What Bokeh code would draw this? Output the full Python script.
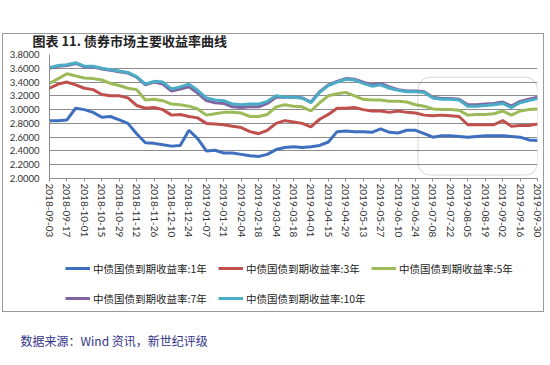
import math
import pandas as pd
from bokeh.plotting import figure
from bokeh.layouts import column
from bokeh.models import (Range1d, FixedTicker, NumeralTickFormatter, DatetimeTickFormatter,
                          Legend, LegendItem, Title, BoxAnnotation, ColumnDataSource)
from bokeh.embed import file_html
from bokeh.resources import INLINE

# ---------------- data (weekly readings) ----------------
dates = pd.date_range("2018-09-03", "2019-09-30", freq="7D")

y1 = [2.84, 2.84, 2.85, 3.02, 3.00, 2.96, 2.89, 2.90, 2.85, 2.80,
      2.65, 2.52, 2.51, 2.49, 2.47, 2.48, 2.70, 2.58, 2.40, 2.41,
      2.37, 2.37, 2.35, 2.33, 2.32, 2.35, 2.42, 2.45, 2.46, 2.45,
      2.46, 2.48, 2.53, 2.68, 2.69, 2.68, 2.68, 2.67, 2.72, 2.67,
      2.66, 2.70, 2.70, 2.65, 2.60, 2.62, 2.62, 2.61, 2.60, 2.61,
      2.62, 2.62, 2.62, 2.61, 2.60, 2.56, 2.55]
y3 = [3.31, 3.37, 3.40, 3.36, 3.31, 3.29, 3.22, 3.20, 3.20, 3.17,
      3.06, 3.02, 3.03, 3.00, 2.92, 2.93, 2.90, 2.88, 2.80, 2.79,
      2.78, 2.76, 2.74, 2.68, 2.65, 2.70, 2.80, 2.84, 2.82, 2.80,
      2.75, 2.86, 2.93, 3.02, 3.02, 3.03, 3.00, 2.98, 2.98, 2.96,
      2.98, 2.96, 2.95, 2.92, 2.91, 2.92, 2.91, 2.90, 2.78, 2.78,
      2.78, 2.78, 2.84, 2.76, 2.77, 2.77, 2.79]
y5 = [3.38, 3.45, 3.52, 3.49, 3.46, 3.45, 3.43, 3.38, 3.35, 3.31,
      3.29, 3.14, 3.15, 3.13, 3.08, 3.07, 3.05, 3.01, 2.92, 2.94,
      2.96, 2.96, 2.95, 2.90, 2.90, 2.93, 3.04, 3.07, 3.05, 3.04,
      2.98, 3.10, 3.20, 3.23, 3.25, 3.20, 3.15, 3.14, 3.14, 3.12,
      3.12, 3.11, 3.07, 3.05, 3.01, 3.00, 3.00, 2.99, 2.92, 2.93,
      2.93, 2.94, 2.98, 2.92, 2.98, 3.00, 3.01]
y7 = [3.60, 3.63, 3.64, 3.67, 3.62, 3.62, 3.59, 3.57, 3.55, 3.53,
      3.47, 3.36, 3.40, 3.37, 3.27, 3.30, 3.33, 3.24, 3.13, 3.10,
      3.09, 3.04, 3.03, 3.04, 3.04, 3.09, 3.18, 3.18, 3.18, 3.17,
      3.11, 3.26, 3.36, 3.41, 3.45, 3.44, 3.40, 3.36, 3.38, 3.33,
      3.29, 3.27, 3.27, 3.26, 3.18, 3.16, 3.16, 3.15, 3.07, 3.07,
      3.08, 3.09, 3.11, 3.05, 3.12, 3.15, 3.18]
y10 = [3.61, 3.64, 3.65, 3.68, 3.63, 3.63, 3.60, 3.58, 3.56, 3.54,
       3.48, 3.37, 3.41, 3.40, 3.30, 3.33, 3.37, 3.28, 3.17, 3.14,
       3.13, 3.08, 3.07, 3.08, 3.08, 3.12, 3.20, 3.18, 3.18, 3.17,
       3.10, 3.25, 3.35, 3.40, 3.44, 3.43, 3.38, 3.34, 3.36, 3.31,
       3.28, 3.26, 3.26, 3.25, 3.17, 3.15, 3.15, 3.14, 3.05, 3.05,
       3.06, 3.07, 3.09, 3.03, 3.10, 3.13, 3.16]

series_keys = ["y1", "y3", "y5", "y7", "y10"]
series_names = ["中债国债到期收益率:1年", "中债国债到期收益率:3年", "中债国债到期收益率:5年",
                "中债国债到期收益率:7年", "中债国债到期收益率:10年"]
series_colors = ["#3F6FBF", "#C0504D", "#9BBB59", "#8064A2", "#4BACC6"]

tick_labels = ["2018-09-03", "2018-09-17", "2018-10-01", "2018-10-15", "2018-10-29",
               "2018-11-12", "2018-11-26", "2018-12-10", "2018-12-24", "2019-01-07",
               "2019-01-21", "2019-02-04", "2019-02-18", "2019-03-04", "2019-03-18",
               "2019-04-01", "2019-04-15", "2019-04-29", "2019-05-13", "2019-05-27",
               "2019-06-10", "2019-06-24", "2019-07-08", "2019-07-22", "2019-08-05",
               "2019-08-19", "2019-09-02", "2019-09-16", "2019-09-30"]
y_ticks = [2.0, 2.2, 2.4, 2.6, 2.8, 3.0, 3.2, 3.4, 3.6, 3.8]

title_text = "图表 11.  债券市场主要收益率曲线"
source_text = "数据来源：Wind 资讯，新世纪评级"

W = 550
H_MAIN = 240
H_LEG = 125
BORDER = "#9a9a9a"


def ms(s):
    return pd.Timestamp(s).value // 10**6


src = ColumnDataSource(dict(d=dates, y1=y1, y3=y3, y5=y5, y7=y7, y10=y10))

# outer chart border, drawn in two parts (one per stacked figure)
border_top_css = f"""
:host {{ position: relative; }}
:host::after {{
  content: ""; position: absolute; pointer-events: none; z-index: 10;
  left: 2px; top: 33px; width: 542px; height: 210px;
  border: 1px solid {BORDER}; border-bottom: none;
}}
"""
border_bottom_css = f"""
:host {{ position: relative; }}
:host::after {{
  content: ""; position: absolute; pointer-events: none; z-index: 10;
  left: 2px; top: 0px; width: 542px; height: 72px;
  border: 1px solid {BORDER}; border-top: none;
}}
"""

# ---------------- main chart ----------------
p = figure(width=W, height=H_MAIN, x_axis_type="datetime",
           output_backend="svg", toolbar_location=None,
           x_range=Range1d(ms(tick_labels[0]), ms(tick_labels[-1])),
           y_range=Range1d(y_ticks[0], y_ticks[-1]),
           min_border_left=49, min_border_right=13, min_border_top=46, min_border_bottom=61,
           stylesheets=[border_top_css])
p.outline_line_color = None
p.background_fill_color = "white"
p.border_fill_color = "white"

p.title.text = title_text
p.title.align = "left"
p.title.offset = -17
p.title.padding = (0, 0, 23, 0)
p.title.text_font = "Noto Sans CJK SC"
p.title.text_font_style = "bold"
p.title.text_font_size = "13px"
p.title.text_color = "#222222"

for col, c in zip(series_keys, series_colors):
    p.line("d", col, source=src, line_color=c, line_width=3)

axis_font = "Lato"
grid_col = "#8c8c8c"

xa = p.xaxis[0]
xa.ticker = FixedTicker(ticks=[ms(s) for s in tick_labels])
fmt = "%Y-%m-%d"
xa.formatter = DatetimeTickFormatter(days=fmt, months=fmt, years=fmt, hours=fmt,
                                     hourmin=fmt, minutes=fmt, minsec=fmt, seconds=fmt,
                                     milliseconds=fmt, microseconds=fmt)
xa.major_label_orientation = -math.pi / 2
xa.major_label_text_font = axis_font
xa.major_label_text_font_size = "10px"
xa.major_label_text_color = "#333333"
xa.axis_line_color = grid_col
xa.major_tick_line_color = grid_col
xa.major_tick_out = 3
xa.major_tick_in = 0
xa.minor_tick_line_color = None
xa.major_label_standoff = 2

ya = p.yaxis[0]
ya.ticker = FixedTicker(ticks=y_ticks)
ya.formatter = NumeralTickFormatter(format="0.0000")
ya.major_label_text_font = axis_font
ya.major_label_text_font_size = "9.5px"
ya.major_label_text_color = "#333333"
ya.axis_line_color = grid_col
ya.major_tick_line_color = None
ya.major_tick_out = 0
ya.major_tick_in = 0
ya.minor_tick_line_color = None
ya.major_label_standoff = 10

p.xgrid.grid_line_color = None
p.ygrid.grid_line_color = grid_col
p.ygrid.grid_line_width = 1

# highlighted period (rounded box)
p.add_layout(BoxAnnotation(left=ms("2019-06-26"), right=ms("2019-09-30"), top=3.47, bottom=2.05,
                           fill_color=None, fill_alpha=0, line_color="#7a7a7a", line_width=1,
                           border_radius=12))

# ---------------- legend + source strip ----------------
f_leg = figure(width=W, height=H_LEG, x_range=Range1d(0, 1), y_range=Range1d(0, 1),
               x_axis_location=None, y_axis_location=None, toolbar_location=None,
               output_backend="svg",
               min_border_left=49, min_border_right=13, min_border_top=0, min_border_bottom=45,
               stylesheets=[border_bottom_css])
f_leg.outline_line_color = None
f_leg.grid.grid_line_color = None
f_leg.border_fill_color = "white"

# key renderers: same series, outside this strip's ranges (only their legend keys show)
key_renderers = [f_leg.line("d", col, source=src, line_color=c, line_width=3)
                 for col, c in zip(series_keys, series_colors)]
legend = Legend(items=[LegendItem(label=n, renderers=[r]) for n, r in zip(series_names, key_renderers)],
                orientation="horizontal", ncols=3, location=(16, 7),
                glyph_width=25, glyph_height=10, label_width=125, label_height=30,
                label_standoff=3, spacing=0, padding=0, margin=0,
                border_line_color=None, background_fill_alpha=0,
                label_text_font="Noto Sans CJK SC", label_text_font_size="10.5px",
                label_text_color="#222222")
f_leg.add_layout(legend)

f_leg.add_layout(Title(text=source_text, align="left", offset=-29, standoff=19,
                       text_font="Noto Sans CJK SC", text_font_style="normal",
                       text_font_size="12px", text_color="#33338a"), "below")

layout = column(p, f_leg, spacing=0)
open("out.html", "w").write(file_html(layout, INLINE))
